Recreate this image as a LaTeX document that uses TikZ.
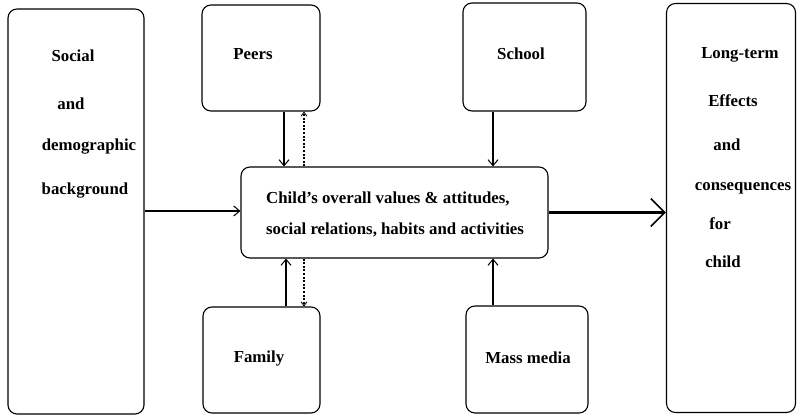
\documentclass[tikz,border=0pt]{standalone}
\usepackage{fontspec}
\setmainfont{Liberation Serif}
\usetikzlibrary{arrows.meta}
\begin{document}
\begin{tikzpicture}[x=1pt,y=-1pt,
  box/.style={draw, line width=1.1pt, rounded corners=9pt, inner sep=0pt, align=center},
  lbl/.style={inner sep=0pt, font=\bfseries\fontsize{16.8}{20}\selectfont},
  flow/.style={line width=1.2pt, -{Straight Barb[length=6pt,width=10pt,line width=1pt]}},
  back/.style={line width=1.1pt, dash pattern=on 2pt off 1.6pt, -{Straight Barb[length=4pt,width=6pt,line width=0.8pt]}},
  big/.style={line width=2.2pt, -{Straight Barb[length=14pt,width=28pt,line width=1.6pt]}}]
\useasboundingbox (0,0) rectangle (797,419);

% outer columns
\node[box, minimum width=136pt, minimum height=405pt] (social) at (76,211.5) {};
\node[box, minimum width=129pt, minimum height=409pt] (effects) at (731,208) {};

% influence boxes
\node[box, minimum width=118pt, minimum height=106pt] (peers) at (261,58) {};
\node[box, minimum width=123pt, minimum height=108pt] (school) at (524.5,57) {};
\node[box, minimum width=117pt, minimum height=106pt] (family) at (261.5,360) {};
\node[box, minimum width=122pt, minimum height=107pt] (media) at (527,359.5) {};
\node[lbl] (tpeers) at (253,54) {Peers};
\node[lbl] (tschool) at (521,54) {School};
\node[lbl] (tfamily) at (259,358) {Family};
\node[lbl] (tmedia) at (528,358) {Mass media};

% central box
\node[box, minimum width=307pt, minimum height=91pt] (child) at (394.5,212.5) {};
\node[lbl, anchor=west] (c1) at (266,199) {Child's overall values \& attitudes,};
\node[lbl, anchor=west] (c2) at (266,230) {social relations, habits and activities};

% left column text
\node[lbl] (s1) at (73,56) {Social};
\node[lbl] (s2) at (71,104) {and};
\node[lbl] (s3) at (89,147) {demographic};
\node[lbl] (s4) at (85,191) {background};

% right column text
\node[lbl] (e1) at (740,55) {Long-term};
\node[lbl] (e2) at (733,101) {Effects};
\node[lbl] (e3) at (727,145) {and};
\node[lbl] (e4) at (743,188) {consequences};
\node[lbl] (e5) at (720,224) {for};
\node[lbl] (e6) at (723,262) {child};

% connectors
\draw[flow] ([yshift=1.5pt]social.east |- child.west) -- ([yshift=1.5pt]child.west);
\draw[big] (child.east) -- (effects.west |- child.east);
\draw[flow] ([xshift=23pt]peers.south) -- ([xshift=23pt]peers.south |- child.north);
\draw[back] ([xshift=43pt]peers.south |- child.north) -- ([xshift=43pt]peers.south);
\draw[flow] ([xshift=-31.5pt]school.south) -- ([xshift=-31.5pt]school.south |- child.north);
\draw[flow] ([xshift=24.5pt]family.north) -- ([xshift=24.5pt]family.north |- child.south);
\draw[back] ([xshift=42.5pt]family.north |- child.south) -- ([xshift=42.5pt]family.north);
\draw[flow] ([xshift=-34pt]media.north) -- ([xshift=-34pt]media.north |- child.south);
\end{tikzpicture}
\end{document}
